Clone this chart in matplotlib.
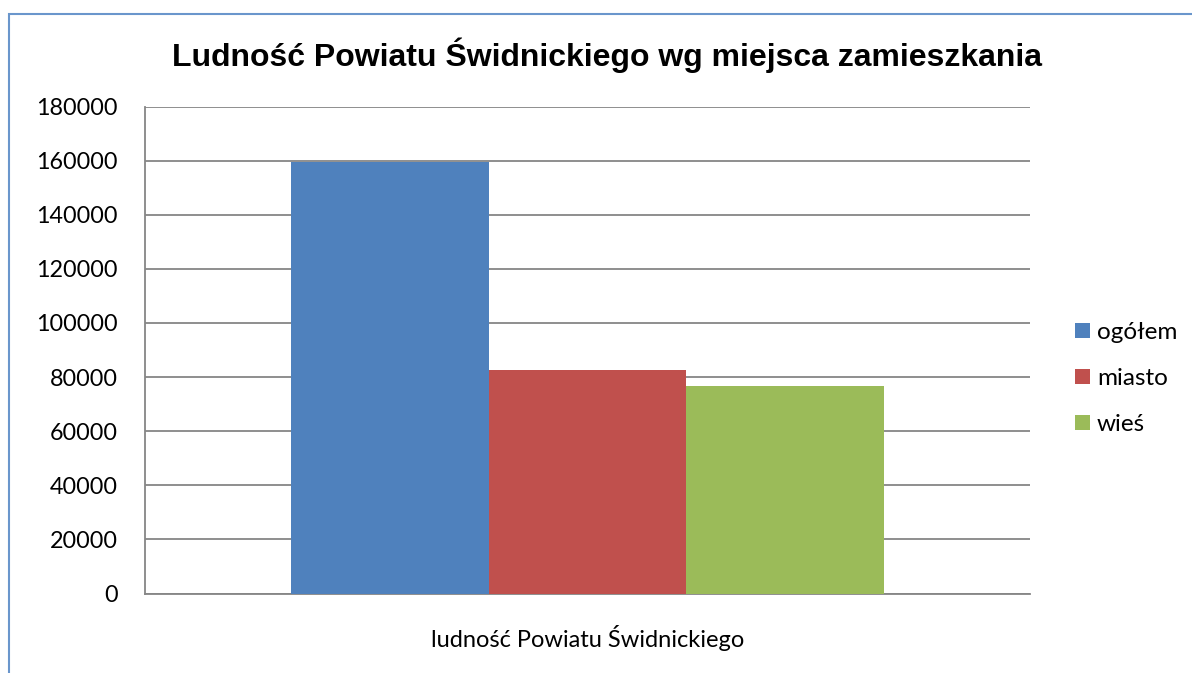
import matplotlib.pyplot as plt
from matplotlib.patches import Rectangle

# data
category = "ludność Powiatu Świdnickiego"
series = ["ogółem", "miasto", "wieś"]
values = [159400, 82600, 76700]
colors = ["#4F81BD", "#C0504D", "#9BBB59"]
yticks = list(range(0, 180001, 20000))

W, H = 1192, 673
fig = plt.figure(figsize=(W / 100, H / 100), dpi=100)

# outer chart border (only top and left visible in the crop)
fig.patches.append(Rectangle((9 / W, -0.1), 1.2, (H - 14) / H + 0.1,
                             transform=fig.transFigure, fill=False,
                             edgecolor="#6A96CC", linewidth=1.5))

ax = fig.add_axes([145 / W, (H - 593.5) / H, 885 / W, 487 / H])

bw = 0.2237
offsets = [(i - 1) * bw for i in range(len(series))]
for off, v, c, name in zip(offsets, values, colors, series):
    ax.bar(off, v, width=bw, color=c, label=name, zorder=3)

ax.set_xlim(-0.5, 0.5)
ax.set_ylim(0, 180000)
ax.set_yticks(yticks)
ax.set_yticklabels([str(t) for t in yticks], fontfamily="Lato", fontsize=16.8)
ax.set_xticks([0])
ax.set_xticklabels([category], fontfamily="Lato", fontsize=17)
ax.tick_params(axis="x", length=0, pad=23)
ax.tick_params(axis="y", length=0, pad=19.5)

ax.grid(axis="y", color="#868686", linewidth=1.3, zorder=0)
for s in ["top", "right"]:
    ax.spines[s].set_visible(False)
for s in ["left", "bottom"]:
    ax.spines[s].set_color("#868686")
    ax.spines[s].set_linewidth(1.3)

fig.text(607.5 / W, 1 - 55 / H, "Ludność Powiatu Świdnickiego wg miejsca zamieszkania",
         ha="center", va="center", fontfamily="Liberation Sans",
         fontweight="bold", fontsize=23)

leg = ax.legend(loc="center left", bbox_to_anchor=(1.040, 0.4415), frameon=False,
                prop={"family": "Lato", "size": 17.5}, handlelength=0.6,
                handleheight=0.6, handletextpad=0.3, labelspacing=1.03,
                borderaxespad=0)

fig.savefig("out.png", dpi=100)
